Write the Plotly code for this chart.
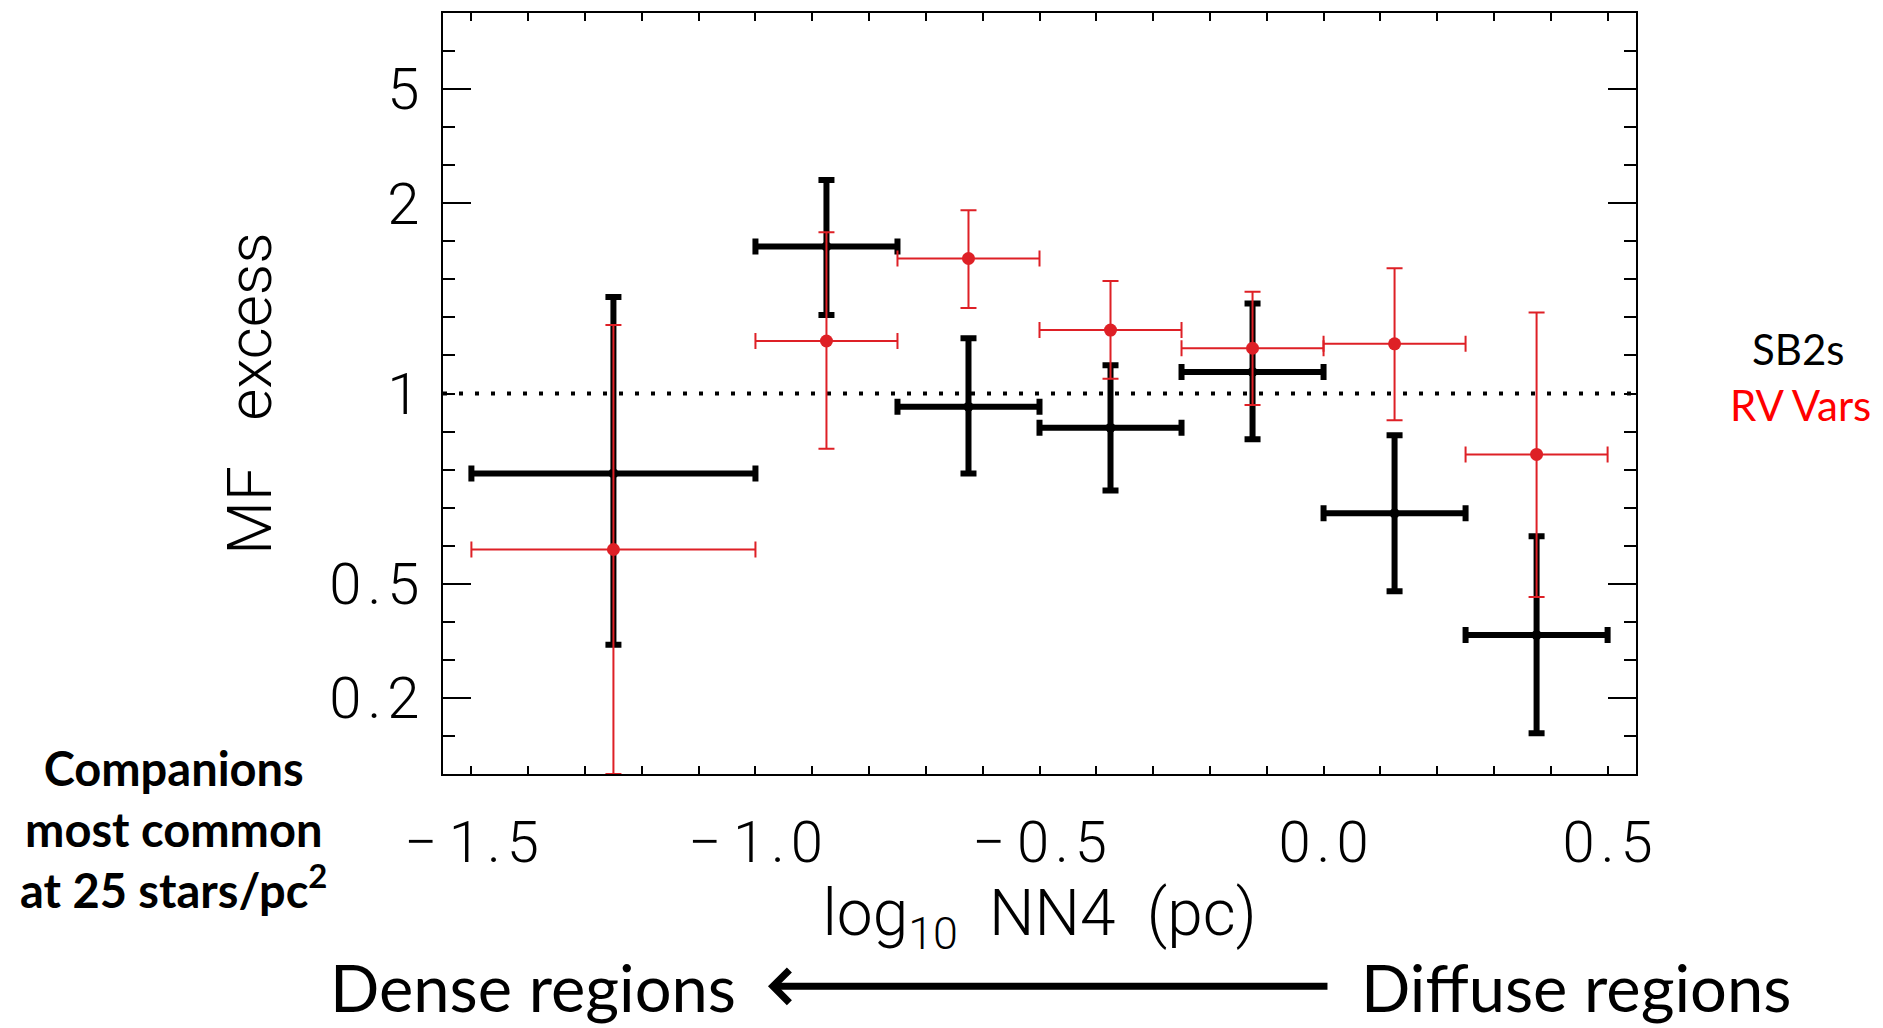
import numpy as np
import plotly.graph_objects as go

# ---------------- data ----------------
bin_lo = [-1.5, -1.0, -0.75, -0.5, -0.25, 0.0, 0.25]
bin_hi = [-1.0, -0.75, -0.5, -0.25, 0.0, 0.25, 0.5]
x_center = [-1.25, -0.875, -0.625, -0.375, -0.125, 0.125, 0.375]

# SB2s (black)
sb2_mf = [0.79, 1.63, 0.965, 0.91, 1.06, 0.685, 0.365]
sb2_hi = [1.34, 2.28, 1.17, 1.08, 1.31, 0.89, 0.625]
sb2_lo = [0.34, 1.26, 0.79, 0.745, 0.88, 0.48, 0.107]

# RV variables (red)
rv_mf = [0.59, 1.16, 1.55, 1.20, 1.135, 1.15, 0.84]
rv_hi = [1.22, 1.735, 1.93, 1.42, 1.365, 1.49, 1.27]
rv_lo = [0.0, 0.855, 1.29, 1.04, 0.97, 0.93, 0.465]

x_tick_values = [-1.5, -1.0, -0.5, 0.0, 0.5]
x_tick_labels = ["\u2212\u20091\u200a.\u200a5", "\u2212\u20091\u200a.\u200a0",
                 "\u2212\u20090\u200a.\u200a5", "0\u200a.\u200a0", "0\u200a.\u200a5"]
y_tick_values = [0.2, 0.5, 1, 2, 5]
y_tick_labels = ["0\u200a.\u200a2", "0\u200a.\u200a5", "1", "2", "5"]
y_long_tick_values = [0.2, 0.5, 2, 5]


# symmetric "fraction" scale of the original axis: x>=1 -> 1-1/x, x<1 -> x-1
def fscale(v):
    v = np.asarray(v, dtype=float)
    return np.where(v >= 1, 1 - 1 / np.where(v == 0, 1, v), v - 1)


xc = np.array(x_center)
xerr_p = np.array(bin_hi) - xc
xerr_m = xc - np.array(bin_lo)

RED = "rgb(222,32,38)"
PLOT_FONT = dict(family="Roboto", size=58, color="black", weight=300)
TITLE_FONT = dict(family="Roboto", size=64, color="black", weight=300)


def series(mf, hi, lo, color, thick, msize):
    yc = fscale(mf)
    return go.Scatter(
        x=x_center, y=yc, mode="markers",
        marker=dict(color=color, size=msize),
        error_y=dict(type="data", symmetric=False,
                     array=fscale(hi) - yc, arrayminus=yc - fscale(lo),
                     color=color, thickness=thick, width=8),
        error_x=dict(type="data", symmetric=False,
                     array=xerr_p, arrayminus=xerr_m,
                     color=color, thickness=thick, width=8),
        cliponaxis=False, showlegend=False, hoverinfo="skip",
    )


fig = go.Figure()
fig.add_trace(series(sb2_mf, sb2_hi, sb2_lo, "black", 6, 10))
fig.add_trace(series(rv_mf, rv_hi, rv_lo, RED, 2, 13))
# helper trace for the overlaid axis carrying the long ticks
fig.add_trace(go.Scatter(x=[], y=[], yaxis="y2", showlegend=False))

fig.add_shape(type="line", xref="paper", x0=0, x1=1, yref="y",
              y0=float(fscale(1)), y1=float(fscale(1)),
              line=dict(color="black", width=4, dash="4px,12px"),
              layer="below")

fig.update_layout(
    width=1883, height=1028,
    margin=dict(l=443, r=247, t=11, b=254),
    paper_bgcolor="white", plot_bgcolor="white",
    showlegend=False,
    xaxis=dict(
        range=[-1.55, 0.55], tickmode="array", tickvals=x_tick_values,
        ticktext=x_tick_labels, ticks="inside", ticklen=8, tickwidth=1.5,
        tickcolor="black", showline=True, linecolor="black", linewidth=2,
        mirror="allticks", showgrid=False, zeroline=False,
        tickfont=PLOT_FONT, ticklabelstandoff=16,
        minor=dict(tickmode="linear", tick0=0, dtick=0.1, ticks="inside",
                   ticklen=4, tickwidth=1.5, tickcolor="black", showgrid=False),
        title=dict(text="log<sub>10</sub>  NN4  (pc)", font=TITLE_FONT, standoff=16),
    ),
    yaxis=dict(
        range=[-1, 1], tickmode="array",
        tickvals=list(fscale(y_tick_values)), ticktext=y_tick_labels,
        ticks="inside", ticklen=12, tickwidth=1.5, tickcolor="black",
        showline=True, linecolor="black", linewidth=2, mirror="allticks",
        showgrid=False, zeroline=False, tickfont=PLOT_FONT,
        ticklabelstandoff=10,
        minor=dict(tickmode="linear", tick0=0, dtick=0.1, ticks="inside",
                   ticklen=12, tickwidth=1.5, tickcolor="black", showgrid=False),
        title=dict(text="MF   excess", font=dict(family="Roboto", size=62, color="black", weight=300), standoff=38),
    ),
    yaxis2=dict(
        range=[-1, 1], overlaying="y", side="left", tickmode="array",
        tickvals=list(fscale(y_long_tick_values)), showticklabels=False,
        ticks="inside", ticklen=28, tickwidth=1.5, tickcolor="black",
        showline=False, mirror="allticks", showgrid=False, zeroline=False,
    ),
)

TEXT_FONT = "Lato"
ann = dict(xref="paper", yref="paper", showarrow=False, xanchor="center", yanchor="middle")
fig.add_annotation(**ann, x=-0.2255, y=-0.0721,
                   text="<b>Companions<br>most common<br>at 25 stars/pc<sup>2</sup></b>",
                   align="center", font=dict(family=TEXT_FONT, size=47, color="black"))
fig.add_annotation(**ann, x=1.1358, y=0.5583, text="SB2s",
                   font=dict(family=TEXT_FONT, size=42, color="black"))
fig.add_annotation(**ann, x=1.1383, y=0.4849, text="RV Vars",
                   font=dict(family=TEXT_FONT, size=42, color="red"))
fig.add_annotation(**ann, x=0.0754, y=-0.2805, text="Dense regions",
                   font=dict(family=TEXT_FONT, size=65, color="black"))
fig.add_annotation(**ann, x=0.9497, y=-0.2805, text="Diffuse regions",
                   font=dict(family=TEXT_FONT, size=65, color="black"))
fig.add_annotation(xref="paper", yref="paper", x=0.2724, y=-0.279, text="",
                   showarrow=True, axref="pixel", ayref="pixel", ax=561, ay=0,
                   arrowhead=4, arrowsize=0.9, arrowwidth=7, arrowcolor="black")

fig.write_html("out.html")
